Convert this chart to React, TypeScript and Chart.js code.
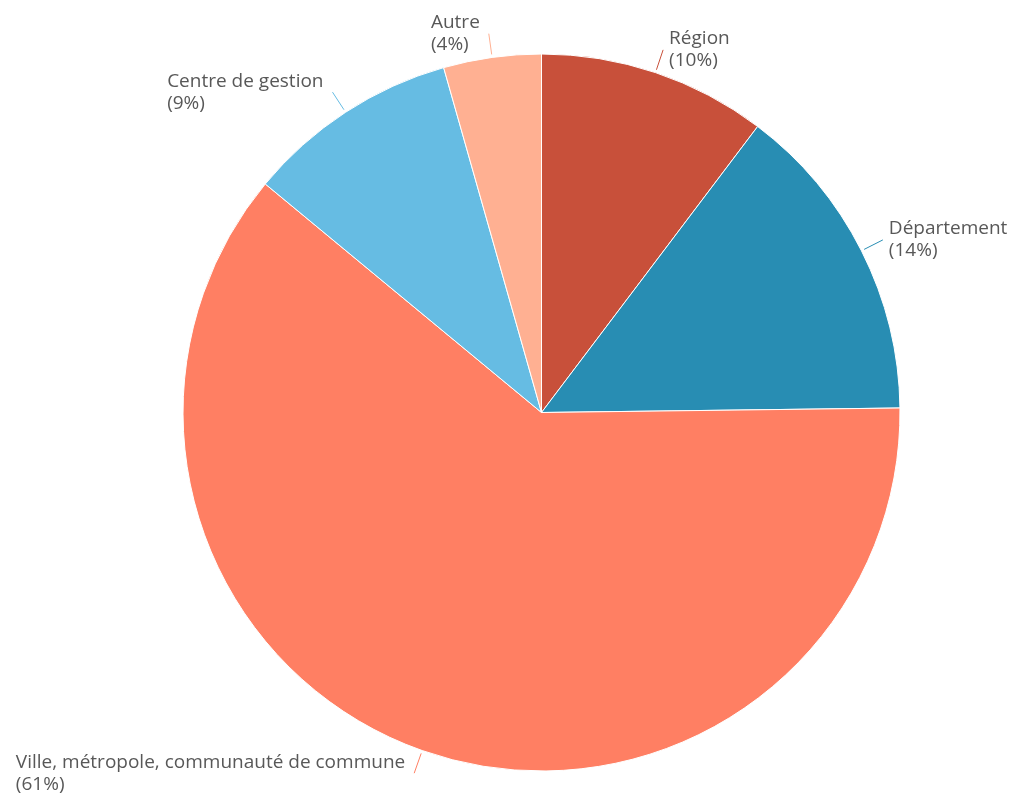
import React, { useEffect, useRef } from "react";
import { Chart, registerables } from "chart.js";

Chart.register(...registerables);

const categories = [
  "Région",
  "Département",
  "Ville, métropole, communauté de commune",
  "Centre de gestion",
  "Autre",
];
const values = [10.3, 14.5, 61.2, 9.6, 4.4];
const percentLabels = ["(10%)", "(14%)", "(61%)", "(9%)", "(4%)"];
const colors = ["#C8503A", "#288DB3", "#FF7F63", "#66BCE3", "#FFB092"];

const FONT = "19px 'Open Sans'";
const TEXT_COLOR = "#585858";

const labelPlugin = {
  id: "outerLabels",
  afterDraw(chart: any) {
    const ctx = chart.ctx;
    const meta = chart.getDatasetMeta(0);
    ctx.save();
    ctx.font = FONT;
    meta.data.forEach((arc: any, i: number) => {
      const { x, y, startAngle, endAngle, outerRadius } = arc.getProps(
        ["x", "y", "startAngle", "endAngle", "outerRadius"],
        true
      );
      const mid = (startAngle + endAngle) / 2;
      const cos = Math.cos(mid);
      const sin = Math.sin(mid);
      const r1 = outerRadius + 3;
      const r2 = outerRadius + 24;
      const x1 = x + cos * r1;
      const y1 = y + sin * r1;
      const x2 = x + cos * r2;
      const y2 = y + sin * r2;
      ctx.strokeStyle = colors[i];
      ctx.lineWidth = 1;
      ctx.beginPath();
      ctx.moveTo(x1, y1);
      ctx.lineTo(x2, y2);
      ctx.stroke();
      const right = cos >= 0;
      ctx.fillStyle = TEXT_COLOR;
      ctx.textAlign = "left";
      ctx.textBaseline = "middle";
      const w = Math.max(
        ctx.measureText(categories[i]).width,
        ctx.measureText(percentLabels[i]).width
      );
      const tx = right ? x2 + 6 : x2 - 9 - w;
      ctx.fillText(categories[i], tx, y2 - 11);
      ctx.fillText(percentLabels[i], tx, y2 + 11);
    });
    ctx.restore();
  },
};

export default function App() {
  const ref = useRef<HTMLCanvasElement | null>(null);
  useEffect(() => {
    if (!ref.current) return;
    const chart = new Chart(ref.current, {
      type: "pie",
      data: {
        labels: categories,
        datasets: [
          {
            data: values,
            backgroundColor: colors,
            borderColor: "#ffffff",
            borderWidth: 1,
          },
        ],
      },
      options: {
        animation: false,
        responsive: false,
        layout: {
          padding: { left: 174.5, right: 107.5, top: 45.5, bottom: 22.5 },
        },
        plugins: {
          legend: { display: false },
          tooltip: { enabled: false },
        },
      },
      plugins: [labelPlugin],
    });
    return () => chart.destroy();
  }, []);
  return (
    <div style={{ width: 1000, height: 786 }}>
      <canvas ref={ref} width={1000} height={786} style={{ width: 1000, height: 786, display: "block" }} />
    </div>
  );
}
